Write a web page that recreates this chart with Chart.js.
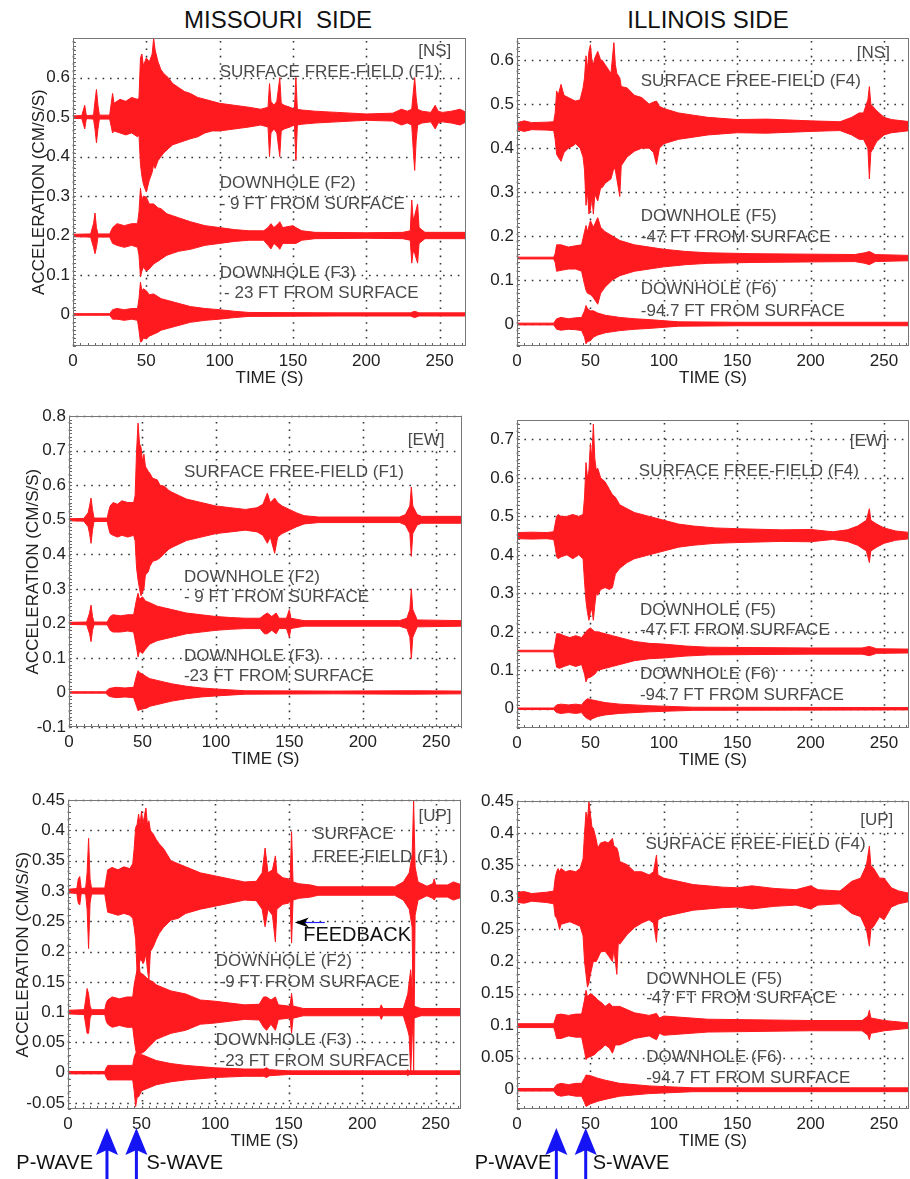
<!DOCTYPE html>
<html>
<head>
<meta charset="utf-8">
<title>Seismograms - Missouri / Illinois side</title>
<script src="https://cdn.jsdelivr.net/npm/chart.js@4.4.0/dist/chart.umd.min.js"></script>
<style>
  html, body { margin: 0; padding: 0; background: #fff; }
  body { width: 910px; height: 1179px; position: relative; overflow: hidden; font-family: "Liberation Sans", Arial, sans-serif; }
  canvas { position: absolute; }
  .side { position: absolute; top: 5px; width: 300px; text-align: center; font-size: 24px; line-height: 30px; color: #111; white-space: pre; }
</style>
</head>
<body>
<div class="side" style="left:128px">MISSOURI  SIDE</div>
<div class="side" style="left:558px">ILLINOIS SIDE</div>

<canvas id="nsMo" width="470" height="366" style="left:0px;top:25px"></canvas>
<canvas id="nsIl" width="443" height="366" style="left:467px;top:25px"></canvas>
<canvas id="ewMo" width="466" height="369" style="left:0px;top:403px"></canvas>
<canvas id="ewIl" width="443" height="366" style="left:467px;top:407px"></canvas>
<canvas id="upMo" width="465" height="392" style="left:0px;top:787px"></canvas>
<canvas id="upIl" width="443" height="391" style="left:467px;top:788px"></canvas>

<script>
// Envelope of each record: [time (s), amplitude above baseline, amplitude below baseline]

// --- NS component ---
const nsMoF1 = [[0,.003,.003],[6,.004,.004],[8,.03,.03],[9,.006,.006],[10,.004,.004],[14,.005,.005],[15,.04,.03],[16,.07,.065],[17,.03,.03],[18,.005,.005],[25,.005,.005],[27,.06,.04],[28,.035,.035],[32,.045,.04],[36,.04,.045],[40,.05,.04],[44,.045,.05],[45,.05,.045],[46,.15,.12],[47,.16,.15],[48,.13,.17],[50,.15,.19],[52,.14,.16],[54,.16,.14],[55,.20,.12],[56,.17,.13],[58,.14,.11],[60,.12,.10],[62,.11,.09],[65,.10,.08],[68,.085,.07],[72,.075,.065],[76,.065,.06],[80,.06,.055],[85,.05,.05],[90,.045,.04],[95,.04,.035],[100,.035,.035],[110,.03,.03],[120,.025,.025],[128,.02,.02],[133,.025,.025],[134,.085,.10],[135,.04,.04],[137,.03,.03],[139,.04,.04],[141,.10,.10],[142,.035,.035],[144,.03,.03],[148,.025,.025],[151,.02,.02],[152,.10,.11],[153,.02,.02],[156,.018,.018],[165,.015,.015],[180,.012,.012],[200,.008,.008],[218,.01,.01],[224,.02,.02],[228,.015,.015],[231,.02,.02],[232,.06,.08],[233,.10,.135],[234,.05,.06],[235,.02,.02],[238,.015,.015],[244,.012,.012],[247,.03,.03],[249,.015,.015],[252,.012,.012],[258,.015,.015],[264,.02,.02],[268,.012,.012]];
const nsMoF2 = [[0,.003,.003],[12,.004,.004],[14,.03,.03],[15,.057,.046],[16,.02,.03],[17,.004,.004],[25,.004,.004],[27,.02,.02],[30,.03,.025],[35,.025,.03],[40,.03,.025],[44,.03,.03],[45,.06,.05],[46,.12,.105],[47,.09,.09],[48,.10,.08],[50,.097,.09],[52,.08,.085],[55,.08,.072],[58,.07,.065],[60,.068,.06],[64,.055,.05],[68,.05,.045],[72,.045,.04],[80,.035,.035],[90,.025,.025],[100,.02,.02],[110,.015,.015],[120,.012,.012],[130,.012,.012],[133,.02,.025],[135,.03,.034],[137,.02,.02],[140,.03,.03],[141,.035,.035],[143,.02,.02],[150,.025,.02],[152,.02,.02],[156,.012,.012],[165,.008,.008],[200,.007,.007],[225,.008,.008],[230,.012,.012],[231,.09,.07],[232,.04,.04],[233,.05,.045],[235,.08,.07],[236,.02,.02],[240,.008,.008],[268,.008,.008]];
const nsMoF3 = [[0,.002,.002],[25,.002,.002],[27,.012,.012],[30,.015,.012],[35,.012,.015],[40,.015,.012],[44,.015,.015],[45,.04,.04],[46,.082,.07],[47,.06,.068],[48,.065,.06],[50,.06,.062],[52,.05,.055],[55,.052,.05],[58,.045,.045],[60,.04,.04],[65,.035,.035],[70,.03,.03],[80,.02,.02],[90,.015,.015],[100,.012,.012],[110,.008,.008],[120,.005,.005],[180,.004,.004],[230,.004,.004],[233,.008,.008],[236,.004,.004],[268,.004,.004]];
const nsIlF4 = [[0,.008,.008],[5,.012,.012],[10,.008,.008],[20,.009,.009],[25,.01,.01],[26,.03,.03],[27,.08,.064],[28,.07,.07],[30,.095,.08],[32,.07,.06],[35,.065,.05],[38,.06,.045],[40,.057,.04],[43,.06,.05],[45,.087,.07],[46,.11,.10],[47,.16,.18],[48,.13,.15],[49,.17,.20],[50,.185,.19],[51,.15,.16],[52,.14,.20],[53,.155,.155],[55,.17,.17],[57,.15,.14],[58,.15,.14],[60,.14,.13],[62,.13,.125],[64,.12,.12],[66,.19,.095],[67,.14,.10],[68,.12,.12],[70,.11,.16],[71,.09,.09],[75,.087,.07],[80,.07,.057],[85,.065,.05],[90,.05,.05],[93,.055,.06],[95,.057,.087],[97,.045,.05],[100,.04,.04],[110,.03,.03],[120,.025,.025],[130,.02,.02],[150,.015,.015],[170,.016,.016],[200,.012,.012],[220,.01,.01],[228,.02,.02],[233,.03,.03],[236,.03,.03],[239,.06,.05],[240,.09,.12],[241,.05,.06],[245,.035,.035],[250,.02,.02],[255,.015,.015],[268,.01,.01]];
const nsIlF5 = [[0,.002,.002],[25,.002,.002],[26,.01,.01],[27,.03,.03],[30,.03,.028],[35,.025,.025],[40,.028,.025],[44,.03,.03],[46,.06,.06],[47,.074,.073],[48,.06,.08],[50,.085,.083],[52,.07,.09],[55,.092,.105],[57,.07,.08],[60,.06,.066],[65,.05,.05],[70,.04,.04],[80,.03,.03],[90,.025,.025],[100,.02,.02],[115,.015,.015],[130,.012,.012],[160,.01,.01],[230,.008,.008],[237,.012,.012],[240,.015,.015],[244,.008,.008],[268,.006,.006]];
const nsIlF6 = [[0,.002,.002],[25,.002,.002],[27,.012,.012],[30,.015,.014],[35,.012,.012],[40,.014,.013],[44,.015,.015],[46,.03,.03],[47,.042,.045],[48,.035,.04],[50,.03,.038],[52,.03,.03],[55,.025,.025],[60,.02,.02],[70,.015,.015],[80,.012,.012],[90,.01,.01],[110,.005,.005],[150,.004,.004],[268,.004,.004]];

// --- EW component ---
const ewMoF1 = [[0,.003,.003],[10,.004,.004],[13,.02,.02],[14,.04,.04],[15,.063,.068],[16,.03,.03],[17,.005,.005],[26,.005,.005],[27,.025,.025],[28,.04,.04],[30,.05,.045],[33,.045,.05],[36,.055,.045],[40,.05,.05],[44,.05,.045],[45,.07,.06],[46,.20,.14],[47,.28,.174],[48,.22,.20],[49,.21,.22],[50,.17,.21],[51,.19,.20],[52,.155,.16],[54,.14,.15],[55,.135,.135],[57,.12,.12],[60,.116,.116],[62,.10,.11],[65,.097,.097],[68,.085,.085],[70,.08,.08],[75,.07,.07],[80,.06,.06],[90,.05,.05],[100,.04,.04],[110,.035,.035],[120,.03,.03],[128,.035,.035],[132,.045,.045],[135,.077,.068],[137,.05,.05],[140,.063,.097],[142,.05,.05],[145,.04,.04],[150,.03,.03],[155,.02,.02],[160,.012,.012],[170,.008,.008],[225,.008,.008],[229,.015,.015],[232,.04,.04],[233,.095,.106],[234,.04,.04],[237,.015,.015],[240,.01,.01],[268,.01,.01]];
const ewMoF2 = [[0,.003,.003],[12,.004,.004],[14,.03,.03],[15,.053,.053],[16,.02,.02],[17,.004,.004],[26,.004,.004],[28,.02,.02],[30,.025,.025],[35,.022,.025],[40,.025,.022],[44,.025,.025],[46,.07,.07],[47,.087,.097],[48,.07,.08],[50,.077,.087],[52,.065,.075],[55,.06,.06],[60,.05,.05],[65,.045,.045],[70,.04,.04],[80,.03,.03],[90,.025,.025],[100,.02,.02],[110,.017,.017],[120,.015,.015],[130,.015,.015],[133,.025,.03],[135,.03,.03],[138,.02,.02],[141,.03,.03],[143,.015,.015],[148,.015,.015],[150,.04,.04],[151,.015,.015],[160,.008,.008],[225,.008,.008],[230,.015,.015],[232,.04,.04],[233,.10,.102],[234,.04,.04],[237,.01,.01],[268,.008,.008]];
const ewMoF3 = [[0,.002,.002],[25,.002,.002],[27,.01,.01],[28,.012,.012],[32,.015,.015],[38,.013,.013],[44,.015,.015],[46,.05,.04],[47,.063,.053],[48,.058,.05],[50,.053,.048],[53,.045,.045],[55,.04,.04],[60,.035,.035],[70,.025,.025],[80,.018,.018],[90,.013,.013],[100,.01,.01],[120,.005,.005],[180,.004,.004],[233,.005,.005],[268,.004,.004]];
const ewIlF4 = [[0,.008,.008],[10,.009,.009],[20,.008,.008],[25,.01,.01],[26,.03,.03],[27,.05,.055],[28,.055,.06],[30,.05,.055],[34,.05,.05],[38,.055,.06],[42,.05,.05],[45,.055,.06],[46,.10,.12],[47,.19,.17],[48,.15,.20],[49,.17,.22],[50,.24,.20],[51,.20,.19],[52,.29,.22],[53,.20,.18],[54,.17,.15],[55,.175,.155],[57,.15,.14],[60,.14,.135],[63,.12,.14],[65,.106,.135],[67,.10,.10],[70,.08,.085],[75,.07,.07],[80,.06,.06],[90,.05,.05],[100,.04,.04],[110,.03,.03],[120,.025,.025],[135,.02,.02],[150,.018,.018],[180,.015,.015],[200,.016,.016],[215,.01,.01],[225,.015,.015],[232,.025,.025],[238,.04,.04],[240,.07,.07],[241,.04,.04],[245,.03,.03],[250,.02,.02],[258,.012,.012],[268,.008,.008]];
const ewIlF5 = [[0,.002,.002],[25,.002,.002],[26,.02,.02],[27,.045,.042],[29,.045,.045],[32,.04,.04],[36,.035,.035],[40,.04,.04],[44,.035,.035],[46,.045,.06],[47,.05,.08],[48,.055,.07],[50,.06,.068],[53,.05,.06],[55,.05,.05],[60,.045,.045],[65,.04,.04],[70,.035,.035],[80,.025,.025],[90,.02,.02],[100,.018,.018],[115,.013,.013],[130,.01,.01],[200,.008,.008],[235,.008,.008],[240,.012,.012],[245,.006,.006],[268,.005,.005]];
const ewIlF6 = [[0,.002,.002],[25,.002,.002],[27,.01,.01],[30,.012,.012],[35,.01,.01],[40,.012,.012],[44,.01,.01],[46,.02,.02],[48,.026,.026],[50,.024,.028],[55,.02,.02],[60,.016,.016],[70,.012,.012],[90,.008,.008],[120,.004,.004],[268,.003,.003]];

// --- UP component ---
const upMoF1 = [[0,.003,.003],[6,.004,.004],[7,.02,.02],[8,.024,.023],[9,.004,.004],[12,.005,.005],[13,.03,.03],[14,.087,.095],[15,.02,.02],[16,.005,.005],[25,.005,.005],[26,.02,.02],[27,.035,.035],[30,.039,.037],[34,.035,.04],[38,.04,.037],[42,.037,.04],[44,.045,.045],[45,.07,.06],[46,.105,.08],[47,.11,.137],[48,.127,.125],[49,.11,.114],[50,.132,.114],[51,.11,.12],[52,.125,.115],[53,.137,.103],[54,.11,.13],[55,.116,.147],[56,.10,.10],[58,.094,.092],[60,.085,.08],[62,.078,.07],[65,.07,.06],[70,.05,.048],[75,.045,.045],[80,.04,.037],[90,.03,.03],[100,.025,.025],[110,.02,.02],[120,.015,.015],[128,.016,.016],[132,.03,.03],[134,.071,.059],[136,.03,.03],[139,.035,.04],[141,.058,.084],[142,.03,.03],[146,.022,.022],[150,.02,.02],[151,.015,.015],[152,.098,.086],[153,.015,.015],[157,.012,.012],[165,.01,.01],[170,.007,.007],[222,.007,.007],[228,.015,.015],[232,.03,.03],[234,.06,.06],[235,.15,.30],[236,.04,.04],[238,.015,.015],[244,.008,.008],[248,.012,.012],[249,.02,.015],[250,.01,.01],[258,.01,.01],[262,.015,.015],[268,.01,.01]];
const upMoF2 = [[0,.003,.003],[11,.004,.004],[12,.02,.02],[13,.039,.035],[14,.03,.035],[15,.01,.01],[16,.004,.004],[25,.004,.004],[26,.015,.015],[27,.02,.02],[30,.025,.025],[35,.022,.022],[40,.025,.025],[44,.025,.025],[45,.045,.045],[46,.058,.062],[47,.07,.075],[48,.09,.079],[49,.065,.07],[50,.064,.068],[52,.06,.065],[55,.053,.057],[58,.05,.05],[60,.045,.045],[65,.04,.04],[70,.035,.035],[80,.03,.03],[90,.02,.02],[100,.018,.018],[110,.015,.015],[120,.012,.012],[130,.013,.013],[133,.025,.025],[135,.025,.03],[138,.02,.02],[141,.025,.03],[143,.012,.012],[150,.01,.01],[151,.01,.01],[152,.031,.035],[153,.01,.01],[160,.006,.006],[200,.006,.006],[212,.006,.006],[213,.012,.012],[214,.006,.006],[228,.006,.006],[231,.03,.03],[232,.05,.04],[233,.07,.10],[234,.04,.04],[235,.01,.01],[240,.006,.006],[268,.006,.006]];
const upMoF3 = [[0,.002,.002],[25,.002,.002],[26,.008,.008],[27,.012,.012],[32,.012,.012],[38,.012,.012],[44,.012,.012],[45,.025,.03],[46,.032,.056],[47,.03,.04],[48,.026,.04],[50,.03,.03],[53,.027,.027],[55,.025,.025],[60,.02,.02],[70,.015,.015],[80,.012,.012],[100,.008,.008],[120,.006,.006],[133,.006,.006],[135,.008,.008],[137,.005,.005],[150,.003,.003],[230,.003,.003],[231,.005,.005],[232,.003,.003],[268,.003,.003]];
const upIlF4 = [[0,.008,.008],[5,.009,.009],[10,.006,.006],[20,.008,.008],[25,.01,.01],[26,.03,.03],[27,.04,.032],[28,.045,.04],[29,.04,.05],[30,.045,.042],[33,.04,.04],[36,.042,.038],[40,.04,.042],[43,.045,.045],[45,.06,.06],[46,.10,.10],[47,.133,.12],[48,.12,.14],[49,.15,.133],[50,.13,.12],[51,.11,.11],[52,.108,.10],[54,.09,.10],[55,.077,.095],[57,.085,.085],[60,.087,.084],[62,.085,.09],[65,.092,.10],[66,.08,.08],[68,.077,.12],[69,.07,.07],[70,.056,.073],[75,.051,.058],[80,.04,.047],[85,.04,.04],[90,.035,.035],[93,.04,.04],[95,.066,.07],[96,.035,.035],[100,.03,.03],[110,.025,.025],[120,.02,.02],[140,.016,.016],[150,.015,.015],[160,.018,.018],[175,.014,.014],[190,.012,.012],[200,.018,.018],[205,.012,.012],[220,.01,.01],[228,.025,.025],[234,.03,.03],[238,.05,.05],[240,.08,.076],[241,.05,.05],[243,.045,.045],[247,.03,.03],[250,.03,.035],[255,.015,.015],[260,.01,.01],[268,.006,.006]];
const upIlF5 = [[0,.003,.003],[25,.003,.003],[26,.01,.01],[27,.017,.02],[30,.018,.02],[35,.016,.016],[40,.018,.018],[44,.018,.018],[46,.04,.04],[47,.055,.053],[48,.045,.05],[50,.05,.048],[53,.045,.045],[55,.04,.04],[58,.035,.035],[60,.03,.03],[63,.035,.035],[65,.03,.043],[67,.03,.03],[70,.03,.03],[80,.02,.02],[90,.016,.016],[95,.019,.022],[97,.012,.012],[100,.015,.015],[130,.01,.01],[200,.008,.008],[235,.008,.008],[239,.015,.015],[240,.024,.022],[241,.012,.012],[250,.008,.008],[268,.004,.004]];
const upIlF6 = [[0,.002,.002],[25,.002,.002],[27,.008,.008],[30,.01,.01],[35,.008,.008],[40,.01,.01],[44,.01,.01],[46,.018,.02],[47,.023,.026],[50,.022,.022],[55,.018,.018],[60,.015,.015],[70,.01,.01],[90,.006,.006],[120,.003,.003],[268,.003,.003]];

// baselines the records are shifted to
const nsMoBase = [0.5, 0.2, 0];
const nsIlBase = [0.45, 0.15, 0];
const ewMoBase = [0.5, 0.2, 0];
const ewIlBase = [0.45, 0.15, 0];
const upMoBase = [0.3, 0.1, 0];
const upIlBase = [0.3, 0.1, 0];

// tick labels
const timeTicks = [0, 50, 100, 150, 200, 250];
const yTicksNs = [0, 0.1, 0.2, 0.3, 0.4, 0.5, 0.6];
const yTicksEwMo = [-0.1, 0, 0.1, 0.2, 0.3, 0.4, 0.5, 0.6, 0.7, 0.8];
const yTicksEwIl = [0, 0.1, 0.2, 0.3, 0.4, 0.5, 0.6, 0.7];
const yTicksUpMo = [-0.05, 0, 0.05, 0.1, 0.15, 0.2, 0.25, 0.3, 0.35, 0.4, 0.45];
const yTicksUpIl = [0, 0.05, 0.1, 0.15, 0.2, 0.25, 0.3, 0.35, 0.4, 0.45];

const FAMILY = '"Liberation Sans", Arial, sans-serif';
const RED = '#ff1a1f';
const LABEL = '#4a4a4a';

// dotted grid, drawn under the records
const dottedGrid = {
  id: 'dottedGrid',
  beforeDatasetsDraw(chart) {
    const {ctx, chartArea: a, scales: {x, y}} = chart;
    ctx.save();
    ctx.strokeStyle = '#333';
    ctx.lineWidth = 1.6;
    ctx.setLineDash([1.6, 5.8]);
    ctx.beginPath();
    x.ticks.forEach(t => {
      const px = Math.round(x.getPixelForValue(t.value)) + 0.5;
      ctx.moveTo(px, a.bottom); ctx.lineTo(px, a.top);
    });
    y.ticks.forEach(t => {
      const py = Math.round(y.getPixelForValue(t.value)) + 0.5;
      ctx.moveTo(a.left, py); ctx.lineTo(a.right, py);
    });
    ctx.stroke();
    ctx.restore();
  }
};

// box round the plot and small minor ticks
const frame = {
  id: 'frame',
  afterDatasetsDraw(chart) {
    const {ctx, chartArea: a, scales: {x, y}} = chart;
    ctx.save();
    ctx.strokeStyle = '#666';
    ctx.lineWidth = 1;
    ctx.beginPath();
    for (let t = 5; t < x.max; t += 5) {
      const px = Math.round(x.getPixelForValue(t)) + 0.5;
      ctx.moveTo(px, a.bottom); ctx.lineTo(px, a.bottom - 3);
    }
    for (let v = Math.ceil(y.min * 100) / 100; v < y.max; v += 0.01) {
      const py = Math.round(y.getPixelForValue(v)) + 0.5;
      ctx.moveTo(a.left, py); ctx.lineTo(a.left + 3, py);
    }
    ctx.stroke();
    ctx.strokeStyle = '#777';
    ctx.strokeRect(Math.round(a.left) + 0.5, Math.round(a.top) + 0.5, Math.round(a.width) - 1, Math.round(a.height) - 1);
    ctx.restore();
  }
};

// captions inside the plot, placed in data coordinates
const panelText = {
  id: 'panelText',
  afterDatasetsDraw(chart, args, opts) {
    const {ctx, scales: {x, y}} = chart;
    ctx.save();
    ctx.textBaseline = 'middle';
    (opts.items || []).forEach(it => {
      ctx.font = (it.size || 17) + 'px ' + FAMILY;
      ctx.fillStyle = it.color || LABEL;
      ctx.textAlign = it.align || 'left';
      ctx.fillText(it.text, x.getPixelForValue(it.t), y.getPixelForValue(it.v));
    });
    // FEEDBACK pointer
    if (opts.pointer) {
      const p = opts.pointer;
      const x0 = x.getPixelForValue(p.t0), x1 = x.getPixelForValue(p.t1), py = y.getPixelForValue(p.v);
      ctx.strokeStyle = '#2020ff';
      ctx.lineWidth = 1.2;
      ctx.beginPath(); ctx.moveTo(x0 + 8, py); ctx.lineTo(x1, py); ctx.stroke();
      ctx.fillStyle = '#000';
      ctx.beginPath();
      ctx.moveTo(x0, py); ctx.lineTo(x0 + 14, py - 5); ctx.lineTo(x0 + 10, py); ctx.lineTo(x0 + 14, py + 5);
      ctx.closePath(); ctx.fill();
    }
    ctx.restore();
  }
};

// P-wave / S-wave arrows under the time axis
const waveArrows = {
  id: 'waveArrows',
  afterDraw(chart, args, opts) {
    if (!opts.marks) return;
    const {ctx, chartArea: a, scales: {x}} = chart;
    ctx.save();
    opts.marks.forEach(m => {
      const px = x.getPixelForValue(m.t);
      const tip = a.bottom + 19;
      ctx.fillStyle = '#1414f5';
      ctx.beginPath();
      ctx.moveTo(px, tip); ctx.lineTo(px + 11, tip + 27); ctx.lineTo(px, tip + 22); ctx.lineTo(px - 11, tip + 27);
      ctx.closePath(); ctx.fill();
      ctx.fillRect(px - 1.5, tip + 20, 3, 60);
      ctx.fillStyle = '#111';
      ctx.font = '20px ' + FAMILY;
      ctx.textAlign = m.align;
      ctx.textBaseline = 'middle';
      ctx.fillText(m.label, px + m.dx, a.bottom + 54);
    });
    ctx.restore();
  }
};

function fmt(v) {
  return String(Math.round(v * 100) / 100);
}

function traceSets(traces, bases) {
  const sets = [];
  traces.forEach((tr, i) => {
    const style = { borderColor: RED, backgroundColor: RED, borderWidth: 1, pointRadius: 0, tension: 0 };
    sets.push({ ...style, data: tr.map(p => ({ x: p[0], y: bases[i] + p[1] })), fill: false });
    sets.push({ ...style, data: tr.map(p => ({ x: p[0], y: bases[i] - p[2] })), fill: '-1' });
  });
  return sets;
}

function makePanel(id, p) {
  const font = { family: FAMILY, size: 17 };
  new Chart(document.getElementById(id), {
    type: 'line',
    data: { datasets: traceSets(p.traces, p.bases) },
    options: {
      responsive: false,
      animation: false,
      events: [],
      layout: { padding: { top: 12, right: p.padRight, bottom: p.padBottom || 0, left: 0 } },
      plugins: {
        legend: { display: false },
        tooltip: { enabled: false },
        panelText: { items: p.labels, pointer: p.pointer },
        waveArrows: { marks: p.marks }
      },
      scales: {
        x: {
          type: 'linear', min: 0, max: p.xMax,
          afterBuildTicks: s => { s.ticks = timeTicks.map(v => ({ value: v })); },
          afterFit: s => { s.height = 45; },
          grid: { display: false, drawTicks: false },
          border: { display: false },
          ticks: { color: '#222', font, padding: 5, maxRotation: 0, autoSkip: false },
          title: { display: true, text: 'TIME (S)', color: '#222', font, padding: { top: 0, bottom: 2 } }
        },
        y: {
          type: 'linear', min: p.yMin, max: p.yMax,
          afterBuildTicks: s => { s.ticks = p.yTicks.map(v => ({ value: v })); },
          afterFit: s => { s.width = p.yWidth; },
          grid: { display: false, drawTicks: false },
          border: { display: false },
          ticks: { color: '#222', font, padding: 3, autoSkip: false, callback: v => fmt(v) },
          title: { display: !!p.yTitlePad, text: 'ACCELERATION (CM/S/S)', color: '#222', font, padding: { top: p.yTitlePad || 0, bottom: 0 } }
        }
      }
    },
    plugins: [dottedGrid, frame, panelText, waveArrows]
  });
}

makePanel('nsMo', {
  traces: [nsMoF1, nsMoF2, nsMoF3], bases: nsMoBase,
  yMin: -0.08, yMax: 0.70, yTicks: yTicksNs, yWidth: 73, yTitlePad: 29, xMax: 268, padRight: 4,
  labels: [
    { text: '[NS]', t: 258, v: 0.668, align: 'right' },
    { text: 'SURFACE FREE-FIELD (F1)', t: 100, v: 0.613 },
    { text: 'DOWNHOLE (F2)', t: 100, v: 0.332 },
    { text: '- 9 FT FROM SURFACE', t: 100, v: 0.28 },
    { text: 'DOWNHOLE (F3)', t: 100, v: 0.104 },
    { text: '- 23 FT FROM SURFACE', t: 103, v: 0.054 }
  ]
});

makePanel('nsIl', {
  traces: [nsIlF4, nsIlF5, nsIlF6], bases: nsIlBase,
  yMin: -0.05, yMax: 0.65, yTicks: yTicksNs, yWidth: 50, xMax: 267, padRight: 1,
  labels: [
    { text: '[NS]', t: 254, v: 0.616, align: 'right' },
    { text: 'SURFACE FREE-FIELD (F4)', t: 84.3, v: 0.553 },
    { text: 'DOWNHOLE (F5)', t: 84.3, v: 0.246 },
    { text: '-47 FT FROM SURFACE', t: 84.3, v: 0.198 },
    { text: 'DOWNHOLE (F6)', t: 84.3, v: 0.079 },
    { text: '-94.7 FT FROM SURFACE', t: 84.3, v: 0.030 }
  ]
});

makePanel('ewMo', {
  traces: [ewMoF1, ewMoF2, ewMoF3], bases: ewMoBase,
  yMin: -0.1, yMax: 0.8, yTicks: yTicksEwMo, yWidth: 69, yTitlePad: 23, xMax: 267.5, padRight: 4,
  labels: [
    { text: '[EW]', t: 255.6, v: 0.73, align: 'right' },
    { text: 'SURFACE FREE-FIELD (F1)', t: 78.2, v: 0.638 },
    { text: 'DOWNHOLE (F2)', t: 78.2, v: 0.333 },
    { text: '- 9 FT FROM SURFACE', t: 78.2, v: 0.275 },
    { text: 'DOWNHOLE (F3)', t: 78.2, v: 0.106 },
    { text: '-23 FT FROM SURFACE', t: 78.2, v: 0.046 }
  ]
});

makePanel('ewIl', {
  traces: [ewIlF4, ewIlF5, ewIlF6], bases: ewIlBase,
  yMin: -0.05, yMax: 0.75, yTicks: yTicksEwIl, yWidth: 50, xMax: 267, padRight: 1,
  labels: [
    { text: '[EW]', t: 251.8, v: 0.694, align: 'right' },
    { text: 'SURFACE FREE-FIELD (F4)', t: 83, v: 0.617 },
    { text: 'DOWNHOLE (F5)', t: 83.7, v: 0.257 },
    { text: '-47 FT FROM SURFACE', t: 83.7, v: 0.205 },
    { text: 'DOWNHOLE (F6)', t: 83.7, v: 0.089 },
    { text: '-94.7 FT FROM SURFACE', t: 83.7, v: 0.036 }
  ]
});

makePanel('upMo', {
  traces: [upMoF1, upMoF2, upMoF3], bases: upMoBase,
  yMin: -0.06, yMax: 0.45, yTicks: yTicksUpMo, yWidth: 68, yTitlePad: 13, xMax: 267.2, padRight: 4, padBottom: 25,
  labels: [
    { text: '[UP]', t: 260.8, v: 0.424, align: 'right' },
    { text: 'SURFACE', t: 166.7, v: 0.393 },
    { text: 'FREE-FIELD (F1)', t: 166.7, v: 0.356 },
    { text: 'FEEDBACK', t: 159.9, v: 0.2265, size: 20, color: '#111' },
    { text: 'DOWNHOLE (F2)', t: 100.5, v: 0.184 },
    { text: '-9 FT FROM SURFACE', t: 103, v: 0.15 },
    { text: 'DOWNHOLE (F3)', t: 100.5, v: 0.054 },
    { text: '-23 FT FROM SURFACE', t: 103, v: 0.018 }
  ],
  pointer: { t0: 154.2, t1: 174.6, v: 0.248 },
  marks: [
    { t: 26.5, label: 'P-WAVE', align: 'right', dx: -14 },
    { t: 46.5, label: 'S-WAVE', align: 'left', dx: 10 }
  ]
});

makePanel('upIl', {
  traces: [upIlF4, upIlF5, upIlF6], bases: upIlBase,
  yMin: -0.03, yMax: 0.45, yTicks: yTicksUpIl, yWidth: 50, xMax: 267, padRight: 1, padBottom: 25,
  labels: [
    { text: '[UP]', t: 256.3, v: 0.42, align: 'right' },
    { text: 'SURFACE FREE-FIELD (F4)', t: 87.5, v: 0.382 },
    { text: 'DOWNHOLE (F5)', t: 88, v: 0.173 },
    { text: '-47 FT FROM SURFACE', t: 88, v: 0.142 },
    { text: 'DOWNHOLE (F6)', t: 88, v: 0.051 },
    { text: '-94.7 FT FROM SURFACE', t: 88, v: 0.018 }
  ],
  marks: [
    { t: 26.8, label: 'P-WAVE', align: 'right', dx: -5 },
    { t: 46.8, label: 'S-WAVE', align: 'left', dx: 7 }
  ]
});
</script>
</body>
</html>
